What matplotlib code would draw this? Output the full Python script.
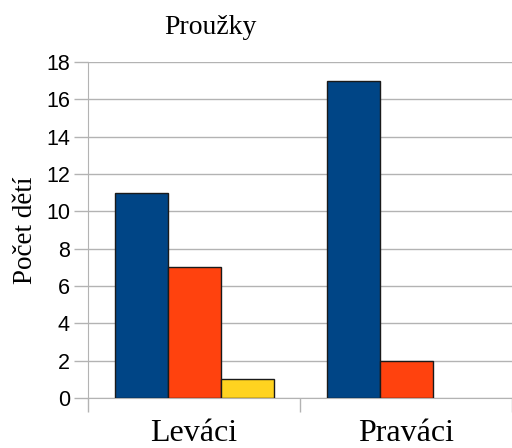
import numpy as np
import matplotlib.pyplot as plt

# data
kategorie = ['Leváci', 'Praváci']
rada1 = [11, 17]
rada2 = [7, 2]
rada3 = [1, 0]
barvy = ['#004586', '#ff420e', '#ffd320']

fig = plt.figure(figsize=(5.12, 4.48), dpi=100)
ax = fig.add_axes([88/512, 50/448, 1 - 88/512, 336/448])

x = np.arange(len(kategorie)) + 0.5
w = 0.25
for i, (vals, c) in enumerate(zip([rada1, rada2, rada3], barvy)):
    bars = ax.bar(x + (i - 1) * w, vals, w, color=c, edgecolor='#1a1a1a', linewidth=1, zorder=3)
    for b in bars:
        if b.get_height() == 0:
            b.set_visible(False)

ax.set_xlim(0, 2)
ax.set_ylim(0, 18)
ax.set_yticks(range(0, 19, 2))
ax.yaxis.grid(True, color='#b3b3b3', linewidth=1, zorder=0)

# kategorie - popisky mezi ticky
ax.set_xticks([0, 1, 2])
ax.set_xticklabels([])
ax.set_xticks(x, minor=True)
ax.set_xticklabels(kategorie, minor=True, fontfamily='Liberation Serif', fontsize=23)
ax.tick_params(axis='x', which='minor', length=0, pad=15)
ax.tick_params(axis='x', which='major', length=10, color='#b3b3b3', width=1)
ax.tick_params(axis='y', length=10, color='#b3b3b3', width=1, labelsize=15.5, pad=3)
for lab in ax.get_yticklabels():
    lab.set_fontfamily('Liberation Sans')

for s in ['top', 'right']:
    ax.spines[s].set_visible(False)
ax.spines['left'].set_color('#b3b3b3')
ax.spines['bottom'].set_color('#b3b3b3')

ax.set_ylabel('Počet dětí', fontfamily='Liberation Serif', fontsize=19.5, labelpad=6)
fig.text(210/512, 1 - 28/448, 'Proužky', fontfamily='Liberation Serif', fontsize=20,
         ha='center', va='center')

fig.savefig('out.png', dpi=100)
